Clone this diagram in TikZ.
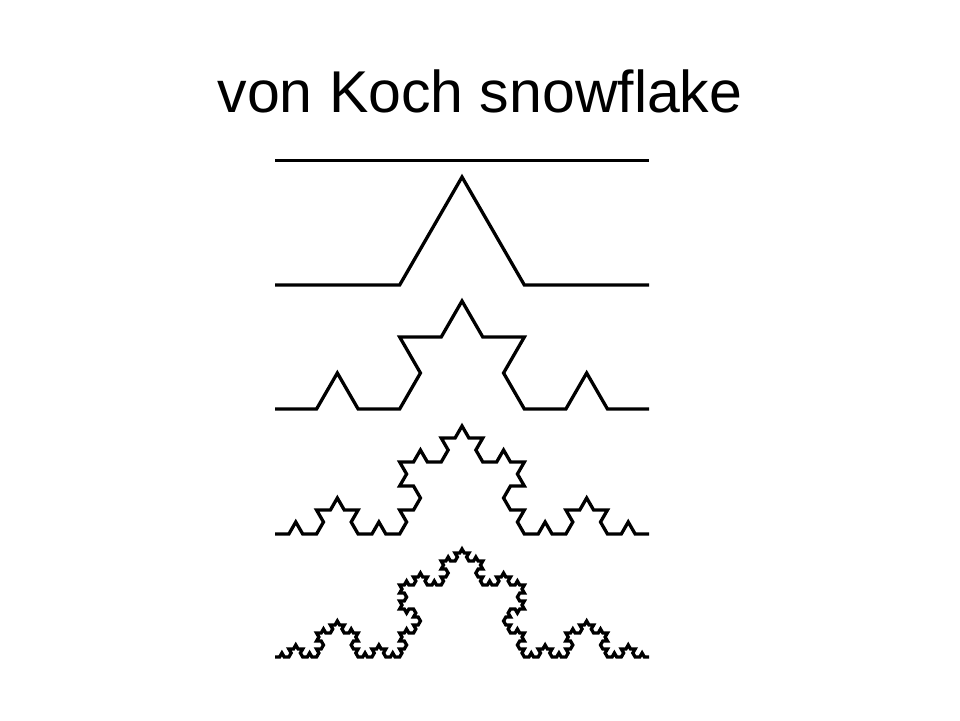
\documentclass[tikz,border=0pt]{standalone}
\usepackage{fontspec}
\setmainfont{Liberation Sans}
\usetikzlibrary{lindenmayersystems}
\pgfdeclarelindenmayersystem{KochCurve}{\rule{F -> F+F--F+F}}
\tikzset{
  koch/.style 2 args={line width=3.3pt, line join=miter, black,
    lindenmayer system={KochCurve, axiom=F, order=#1, step=#2, angle=60}},
  flat/.style={line width=3.3pt, black}
}
\begin{document}
\begin{tikzpicture}[x=1pt,y=1pt]
\useasboundingbox[fill=white] (0,0) rectangle (960,720);
\node[anchor=base, font=\fontsize{59}{70}\selectfont] (title) at (480,607) {von Koch snowflake};
\coordinate (a0) at (275,559.3);
\coordinate (b0) at (649,559.3);
\draw[flat] (a0) -- (b0);
\begin{scope}[shift={(275,435)}]
\draw[koch={1}{124.667pt}] lindenmayer system;
\end{scope}
\begin{scope}[shift={(275,311)}]
\draw[koch={2}{41.556pt}] lindenmayer system;
\end{scope}
\begin{scope}[shift={(275,186)}]
\draw[koch={3}{13.852pt}] lindenmayer system;
\end{scope}
\begin{scope}[shift={(275,63)}]
\draw[koch={4}{4.6173pt}] lindenmayer system;
\end{scope}
\end{tikzpicture}
\end{document}
